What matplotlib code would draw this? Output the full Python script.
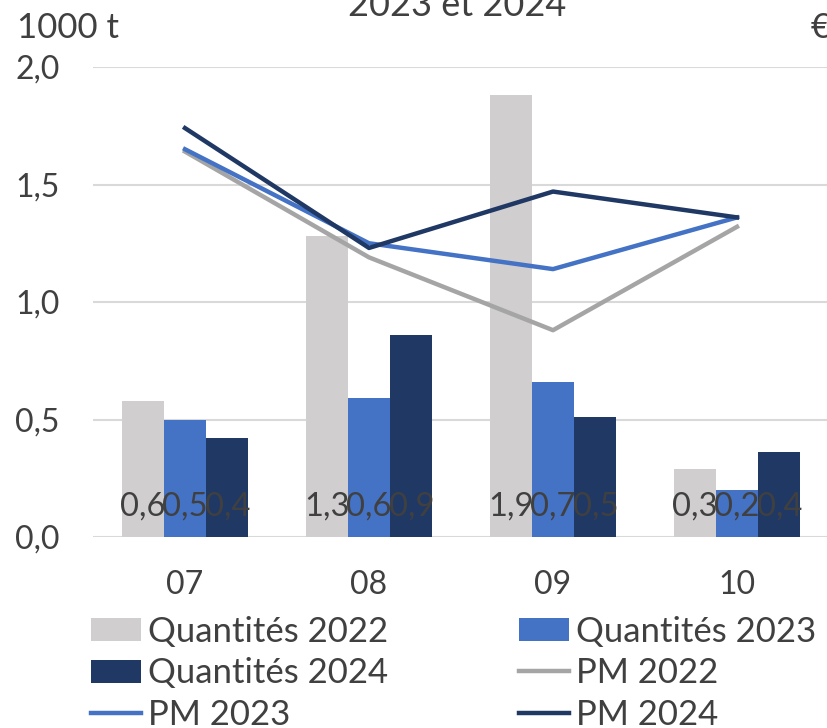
import matplotlib
matplotlib.use('Agg')
import matplotlib.pyplot as plt
import matplotlib.ticker as ticker
import numpy as np

plt.rcParams.update({
    'font.family': ['Lato', 'DejaVu Sans'],
    'font.size': 23,
    'text.color': '#404040',
    'xtick.color': '#404040',
    'ytick.color': '#404040',
})

# data
months = ['07', '08', '09', '10']
qty_2022 = [0.58, 1.28, 1.88, 0.29]
qty_2023 = [0.50, 0.59, 0.66, 0.20]
qty_2024 = [0.42, 0.86, 0.51, 0.36]
pm_2022 = [1.64, 1.19, 0.88, 1.32]
pm_2023 = [1.65, 1.25, 1.14, 1.36]
pm_2024 = [1.74, 1.23, 1.47, 1.36]
labels_2022 = ['0,6', '1,3', '1,9', '0,3']
labels_2023 = ['0,5', '0,6', '0,7', '0,2']
labels_2024 = ['0,4', '0,9', '0,5', '0,4']

C_Q22 = '#D0CECE'
C_Q23 = '#4472C4'
C_Q24 = '#203864'
C_PM22 = '#A5A5A5'
C_PM23 = '#4472C4'
C_PM24 = '#1F3864'

fig = plt.figure(figsize=(8.27, 7.28), dpi=100)
ax = fig.add_axes([93 / 827, 1 - 537 / 728, 736 / 827, 470 / 728])

x = np.arange(len(months))
w = 0.23
bars = []
for off, vals, col, labs, name in [(-w, qty_2022, C_Q22, labels_2022, 'Quantités 2022'),
                                   (0, qty_2023, C_Q23, labels_2023, 'Quantités 2023'),
                                   (w, qty_2024, C_Q24, labels_2024, 'Quantités 2024')]:
    b = ax.bar(x + off, vals, w, color=col, label=name, zorder=2)
    bars.append(b)
    for xi, lab in zip(x + off, labs):
        ax.annotate(lab, (xi, 0), xytext=(0, 22), textcoords='offset points',
                    ha='center', va='center', fontsize=23.5, color='#404040', zorder=4)

l22, = ax.plot(x, pm_2022, color=C_PM22, lw=3.2, label='PM 2022', zorder=3)
l23, = ax.plot(x, pm_2023, color=C_PM23, lw=3.2, label='PM 2023', zorder=3)
l24, = ax.plot(x, pm_2024, color=C_PM24, lw=3.2, label='PM 2024', zorder=3)

ax.set_xlim(-0.5, 3.5)
ax.set_ylim(0, 2.0)
ax.set_xticks(x)
ax.set_xticklabels(months)
ax.set_yticks([0, 0.5, 1.0, 1.5, 2.0])
ax.yaxis.set_major_formatter(ticker.FuncFormatter(lambda v, _: f'{v:.1f}'.replace('.', ',')))
ax.tick_params(axis='both', length=0, pad=24)
ax.grid(axis='y', color='#D9D9D9', lw=1.5, zorder=0)
ax.set_axisbelow(True)
for s in ax.spines.values():
    s.set_visible(False)

fig.text(17 / 827, 1 - 38 / 728, '1000 t', fontsize=25, va='baseline', ha='left')
fig.text(811 / 827, 1 - 38 / 728, '€', fontsize=25, va='baseline', ha='left')
fig.text(457 / 827, 1 - 16 / 728, '2023 et 2024', fontsize=26, va='baseline', ha='center')

handles = [bars[0], bars[2], l23, bars[1], l22, l24]
names = ['Quantités 2022', 'Quantités 2024', 'PM 2023', 'Quantités 2023', 'PM 2022', 'PM 2024']
fig.legend(handles, names, ncol=2, loc='upper left', bbox_to_anchor=(91 / 827, 1 - 616 / 728),
           frameon=False, fontsize=25, handlelength=1.45, handleheight=0.65, handletextpad=0.2,
           columnspacing=3.75, labelspacing=0.27, borderpad=0, borderaxespad=0)

fig.savefig('out.png', dpi=100)
